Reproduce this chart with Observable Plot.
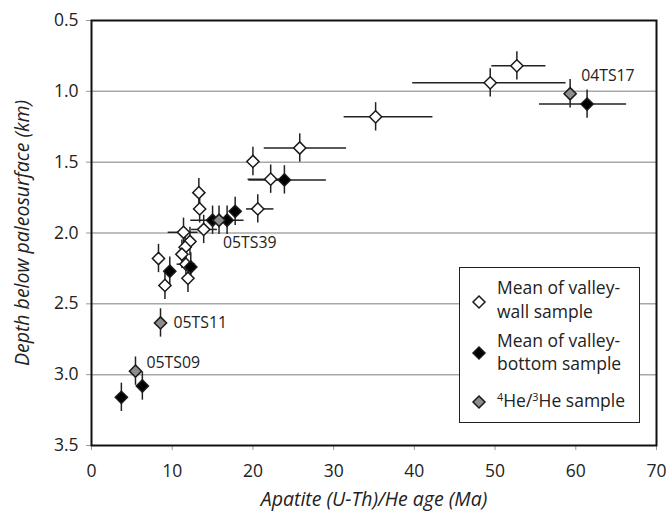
<!DOCTYPE html>
<html><head><meta charset="utf-8">
<script src="https://cdn.jsdelivr.net/npm/d3@7"></script>
<script src="https://cdn.jsdelivr.net/npm/@observablehq/plot@0.6"></script>
<style>
body{margin:0;background:#fff;font-family:"Open Sans",sans-serif;color:#222;}
#wrap{position:relative;width:667px;height:515px;}
#legend{position:absolute;left:459px;top:267px;width:179px;height:154px;border:1.5px solid #222;background:#fff;font-size:17.5px;line-height:1;}
#legend .t{position:absolute;left:37px;white-space:nowrap;}
#legend svg{position:absolute;left:10px;}
sup{font-size:0.62em;vertical-align:0.55em;}
</style></head><body><div id="wrap"></div>
<script>
// Valley-wall samples (open diamonds)
const wallAge   = [52.7, 49.4, 35.2, 25.8, 20.0, 22.2, 13.3, 13.4, 20.6, 13.9, 11.4, 12.2, 11.6, 11.2, 8.3, 11.7, 11.95, 9.1];
const wallLo    = [49.6, 39.8, 31.3, 21.4, 19.6, 19.4, 12.9, 13.0, 19.2, 12.4, 9.5, 11.5, 11.0, 10.6, 7.9, 10.6, 11.5, 8.7];
const wallHi    = [56.3, 58.8, 42.3, 31.6, 20.4, 24.5, 13.7, 13.8, 22.6, 15.6, 13.2, 12.9, 12.2, 11.8, 8.7, 12.9, 12.4, 9.5];
const wallDepth = [0.82, 0.94, 1.18, 1.40, 1.495, 1.62, 1.715, 1.83, 1.83, 1.975, 1.995, 2.06, 2.10, 2.15, 2.18, 2.22, 2.32, 2.37];
// Valley-bottom samples (black diamonds)
const botAge   = [61.4, 23.9, 17.8, 15.0, 16.8, 12.3, 9.7, 6.3, 3.7];
const botLo    = [55.5, 19.5, 17.3, 12.3, 15.5, 11.8, 9.3, 6.0, 3.4];
const botHi    = [66.3, 29.1, 18.3, 17.0, 18.9, 12.8, 10.1, 6.6, 4.0];
const botDepth = [1.09, 1.625, 1.847, 1.91, 1.91, 2.24, 2.27, 3.08, 3.16];
// 4He/3He samples (gray diamonds)
const heAge    = [59.3, 15.8, 8.55, 5.45];
const heLo     = [58.6, 15.3, 8.3, 5.2];
const heHi     = [60.0, 16.3, 8.8, 5.7];
const heDepth  = [1.017, 1.91, 2.635, 2.975];
const heNames  = ["04TS17", "05TS39", "05TS11", "05TS09"];
const depthErr = 0.1;

const xTicks = [0, 10, 20, 30, 40, 50, 60, 70];
const yTicks = [0.5, 1.0, 1.5, 2.0, 2.5, 3.0, 3.5];
const gridLines = [1.0, 1.5, 2.0, 2.5, 3.0];

const build = (age, lo, hi, depth, names) => age.map((a, i) => ({
  age: a, lo: lo[i], hi: hi[i], depth: depth[i],
  d1: depth[i] - depthErr, d2: depth[i] + depthErr, name: names ? names[i] : null
}));
const wall = build(wallAge, wallLo, wallHi, wallDepth);
const bot = build(botAge, botLo, botHi, botDepth);
const he = build(heAge, heLo, heHi, heDepth, heNames);
const all = [...wall, ...bot, ...he];

const labelOffsets = {"04TS17": [11, -18], "05TS39": [4, 23], "05TS11": [13, 0], "05TS09": [11, -8]};
const labelMarks = he.map(r => Plot.text([r], {
  x: "age", y: "depth", text: "name", textAnchor: "start",
  dx: labelOffsets[r.name][0], dy: labelOffsets[r.name][1], fontSize: 15.8, fill: "#222"
}));

const dotStyle = {x: "age", y: "depth", symbol: "diamond2", r: 5.5, stroke: "#1a1a1a", strokeWidth: 1.5};

const chart = Plot.plot({
  width: 667, height: 515,
  marginLeft: 91, marginRight: 11, marginTop: 20, marginBottom: 70,
  style: {fontFamily: "Open Sans, sans-serif", fontSize: "16px", color: "#222", background: "white"},
  x: {domain: [0, 70]},
  y: {domain: [0.5, 3.5], reverse: true},
  marks: [
    Plot.ruleY(gridLines, {stroke: "#a8a8a8", strokeWidth: 1.5}),
    Plot.axisX({ticks: xTicks, tickSize: 5, stroke: "#999", fill: "#222", tickPadding: 14, fontSize: 17.5, label: null}),
    Plot.axisY({ticks: yTicks, tickFormat: d3.format(".1f"), tickSize: 5, stroke: "#999", fill: "#222", tickPadding: 8, fontSize: 17.5, label: null}),
    Plot.text(["Depth below paleosurface (km)"], {frameAnchor: "left", dx: -69, rotate: -90, textAnchor: "middle", lineAnchor: "middle", fontStyle: "italic", fontSize: 19.5, fill: "#222"}),
    Plot.text(["Apatite (U-Th)/He age (Ma)"], {frameAnchor: "bottom", dy: 54, textAnchor: "middle", lineAnchor: "middle", fontStyle: "italic", fontSize: 19.5, fill: "#222"}),
    Plot.ruleY(all, {y: "depth", x1: "lo", x2: "hi", stroke: "#222", strokeWidth: 1.5}),
    Plot.ruleX(all, {x: "age", y1: "d1", y2: "d2", stroke: "#222", strokeWidth: 1.5}),
    Plot.dot(wall, {...dotStyle, fill: "white"}),
    Plot.dot(bot, {...dotStyle, fill: "black"}),
    Plot.dot(he, {...dotStyle, fill: "#8c8c8c"}),
    ...labelMarks,
    Plot.frame({stroke: "#111", strokeWidth: 2})
  ]
});
const wrap = document.getElementById("wrap");
wrap.appendChild(chart);

const diamond = (fill, y) => `<svg width="18" height="18" style="top:${y - 9}px" viewBox="-9 -9 18 18"><path d="M0,-6L6,0L0,6L-6,0Z" fill="${fill}" stroke="#1a1a1a" stroke-width="1.5"/></svg>`;
const legend = document.createElement("div");
legend.id = "legend";
legend.innerHTML =
  diamond("white", 34) +
  `<div class="t" style="top:11px">Mean of valley-</div><div class="t" style="top:35px">wall sample</div>` +
  diamond("black", 85) +
  `<div class="t" style="top:64px">Mean of valley-</div><div class="t" style="top:87px">bottom sample</div>` +
  diamond("#8c8c8c", 134) +
  `<div class="t" style="top:124px"><sup>4</sup>He/<sup>3</sup>He sample</div>`;
wrap.appendChild(legend);
</script>
</body></html>
